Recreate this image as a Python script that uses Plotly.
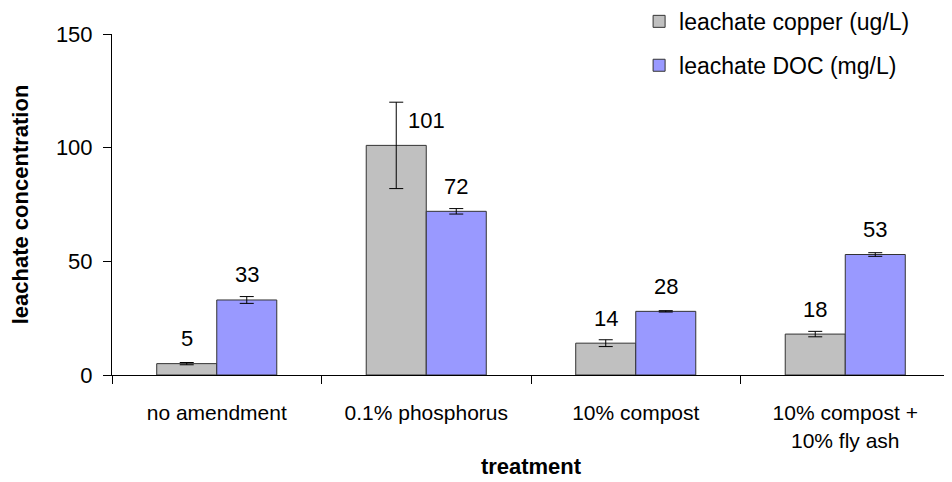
import plotly.graph_objects as go

treatments = ['no amendment', '0.1% phosphorus', '10% compost', '10% compost +<br>10% fly ash']
copper = [5, 101, 14, 18]
copper_err = [0.5, 19, 1.5, 1.2]
doc = [33, 72, 28, 53]
doc_err = [1.5, 1.2, 0.3, 0.8]

font = 'Liberation Sans, Arial, sans-serif'

fig = go.Figure()
fig.add_trace(go.Bar(
    x=treatments, y=copper, name='leachate copper (ug/L)', legendgroup='cu',
    marker=dict(color='#C0C0C0', line=dict(color='#333333', width=1)),
    error_y=dict(type='data', array=copper_err, color='black', thickness=1, width=7),
))
fig.add_trace(go.Bar(
    x=treatments, y=doc, name='leachate DOC (mg/L)', legendgroup='doc',
    marker=dict(color='#9999FF', line=dict(color='#333333', width=1)),
    error_y=dict(type='data', array=doc_err, color='black', thickness=1, width=7),
))

# value labels above bars (the tall 101 label sits beside its error bar)
for vals, shift in ((copper, -30), (doc, 30)):
    for t, v in zip(treatments, vals):
        extra = 30 if v == 101 else 0
        fig.add_annotation(x=t, y=v, text=str(v), showarrow=False, xshift=shift + extra,
                           yshift=25, yanchor='middle', font=dict(size=22, color='black', family=font))

# page body has an 8px margin, so the figure is sized to fit the 952x482 window
fig.update_layout(
    width=944, height=474,
    margin=dict(l=104, r=2, t=26, b=107, autoexpand=False),
    paper_bgcolor='white', plot_bgcolor='white',
    barmode='group', bargap=0.427, bargroupgap=0,
    font=dict(family=font, size=21, color='black'),
    showlegend=True,
    legend=dict(x=0.629, y=1.1, xanchor='left', yanchor='top', font=dict(size=23),
                tracegroupgap=11, bgcolor='rgba(0,0,0,0)'),
    xaxis=dict(
        showline=True, linecolor='black', linewidth=1, tickson='boundaries',
        ticks='outside', ticklen=8, tickcolor='black', showgrid=False,
        tickfont=dict(size=21), ticklabelstandoff=19,
        title=dict(text='<b>treatment</b>', font=dict(size=22), standoff=8),
    ),
    yaxis=dict(
        range=[0, 150], tickvals=[0, 50, 100, 150], showline=True, linecolor='black', linewidth=1,
        ticks='outside', ticklen=8, tickcolor='black', showgrid=False, zeroline=False,
        tickfont=dict(size=22), ticklabelstandoff=6,
        title=dict(text='<b>leachate concentration</b>', font=dict(size=22), standoff=30),
    ),
)

fig.write_html('out.html')
